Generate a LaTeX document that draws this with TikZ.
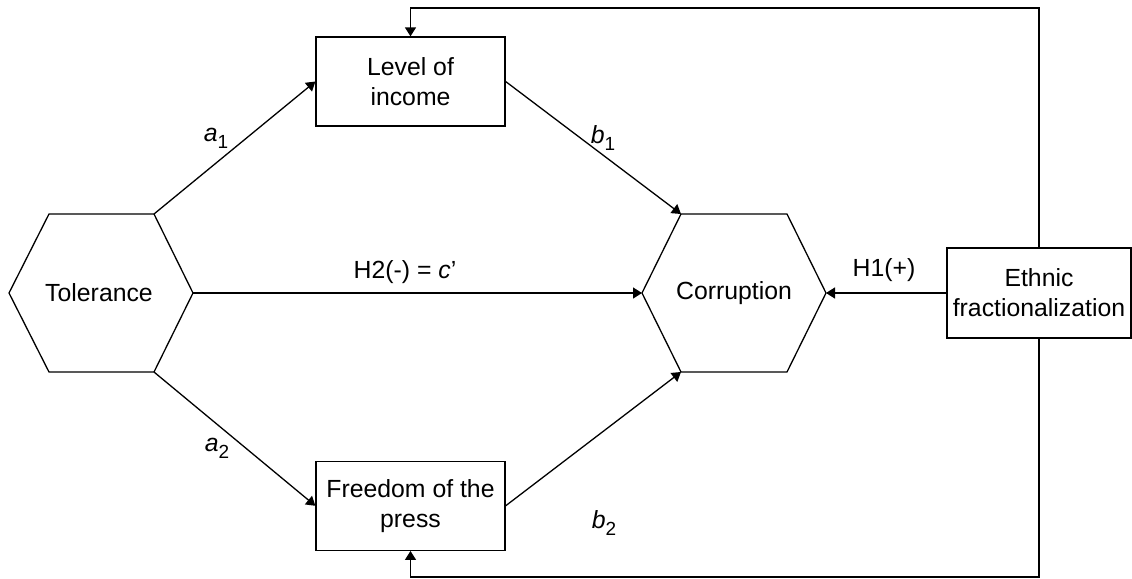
\documentclass[tikz,border=0pt]{standalone}
\usepackage{fontspec}
\setmainfont{Liberation Sans}
\usetikzlibrary{positioning,arrows.meta,calc}
\tikzset{
  vbox/.style  ={rectangle, draw=black, line width=0.65pt, fill=white, align=center,
                 minimum width=94.5pt, minimum height=44.5pt, inner sep=1pt,
                 font=\fontsize{12.4}{15}\selectfont},
  hexline/.style={draw=black, line width=0.65pt, line join=miter},
  htext/.style ={font=\fontsize{12.4}{15}\selectfont, inner sep=0pt},
  arr/.style   ={-{Triangle[length=4.5pt,width=5.5pt]}, line width=0.65pt},
  el/.style    ={font=\fontsize{12.4}{15}\selectfont, inner sep=1pt},
}
\newcommand{\pathsym}[2]{\textit{#1}\raisebox{-3.5pt}{\fontsize{9.5}{10}\selectfont #2}}

\begin{document}
\begin{tikzpicture}[x=0.5pt, y=-0.5pt]
  \useasboundingbox (0,0) rectangle (1132,579);
  % mediators and moderator
  \node[vbox] (income) at (410.5,81.5) {Level of\\income};
  \node[vbox, below=167pt of income] (press) {Freedom of the\\press};
  \node[vbox, minimum width=92pt, minimum height=45pt] (ethnic) at (1039,293) {Ethnic\\fractionalization};
  % hexagons
  \node[htext] (tol) at (99,293) {Tolerance};
  \draw[hexline] (9,293) coordinate (tolW) -- (49,214) coordinate (tolNW)
    -- (154,214) coordinate (tolNE) -- (193,293) coordinate (tolE)
    -- (154,372) coordinate (tolSE) -- (49,372) coordinate (tolSW) -- cycle;
  \node[htext] (cor) at (734,293) {Corruption};
  \draw[hexline] (642,293) coordinate (corW) -- (681,214) coordinate (corNW)
    -- (787,214) coordinate (corNE) -- (826,293) coordinate (corE)
    -- (787,372) coordinate (corSE) -- (681,372) coordinate (corSW) -- cycle;
  % paths
  \draw[arr] (tolNE) -- (income.west);
  \draw[arr] (income.east) -- (corNW);
  \draw[arr] (tolSE) -- (press.west);
  \draw[arr] (press.east) -- (corSW);
  \draw[arr] (tolE) -- (corW);
  \draw[arr] (ethnic.west) -- (corE);
  \coordinate (fbtop) at (1039,8);
  \coordinate (fbbot) at (1039,577);
  \draw[arr] (ethnic.north) -- (fbtop) -| (income.north);
  \draw[arr] (ethnic.south) -- (fbbot) -| (press.south);
  % labels
  \node[el] (la1) at (216,138) {\pathsym{a}{1}};
  \node[el] (lb1) at (603,138) {\pathsym{b}{1}};
  \node[el] (la2) at (217,448) {\pathsym{a}{2}};
  \node[el] (lb2) at (604,523) {\pathsym{b}{2}};
  \node[el] (lc)  at (405,272) {H2(-) = \textit{c}'};
  \node[el] (lh1) at (884,270) {H1(+)};
\end{tikzpicture}
\end{document}
